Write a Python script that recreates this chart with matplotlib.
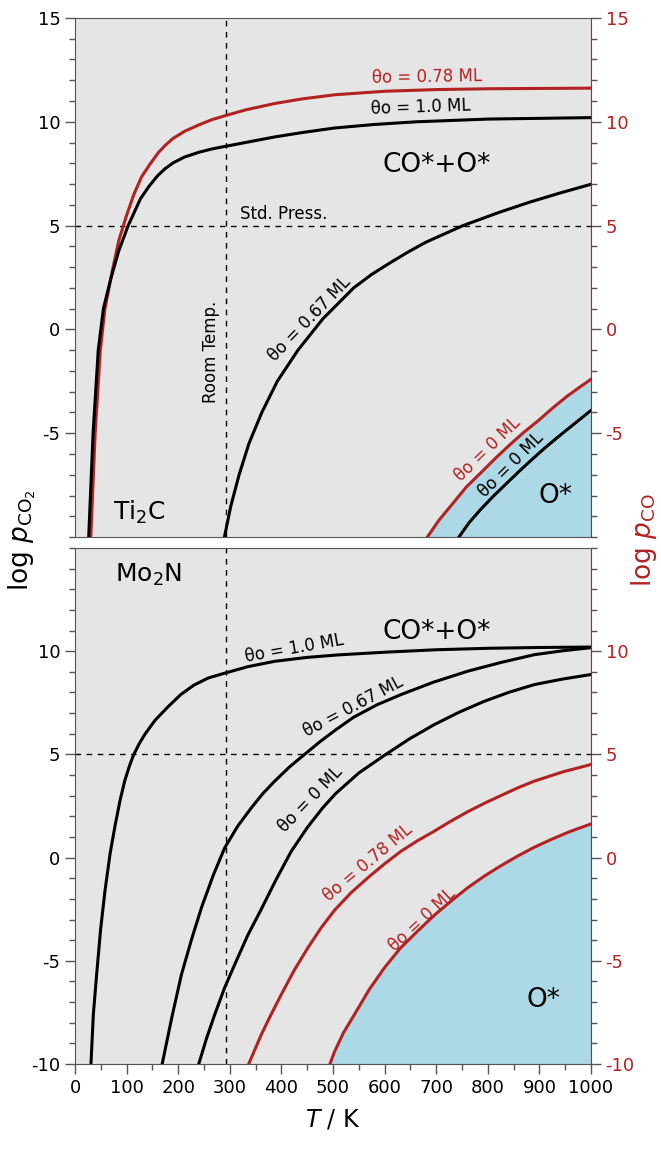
import matplotlib.pyplot as plt
from matplotlib.ticker import MultipleLocator

plt.rcParams['axes.unicode_minus'] = False

RED = '#B22222'
BLUE = '#ADD8E6'
BG = '#E5E5E5'
SPINE = '#555555'

room_temp = 293
std_press = 5

# Ti2C panel (T in K, log p)
ti2c_co2_100_T = [26.5, 35, 45, 55, 70, 85, 103, 127, 143, 160, 175, 190, 212, 240, 265, 292, 330, 387,
                  440, 503, 580, 662, 800, 1000]
ti2c_co2_100_p = [-10, -5, -1, 1, 2.5, 3.8, 5, 6.3, 6.88, 7.4, 7.75, 8.02, 8.3, 8.53, 8.69, 8.82, 9.0, 9.27,
                  9.48, 9.7, 9.87, 10.0, 10.13, 10.2]
ti2c_co_078_T = [30.5, 39, 49, 58, 72, 85, 100, 114, 129, 145, 161, 175, 190, 213, 240, 265, 292, 330, 387,
                 440, 503, 600, 700, 800, 1000]
ti2c_co_078_p = [-10, -5, -1, 1, 2.8, 4.3, 5.5, 6.5, 7.35, 7.95, 8.5, 8.87, 9.2, 9.55, 9.85, 10.1, 10.3,
                 10.57, 10.88, 11.1, 11.3, 11.47, 11.55, 11.59, 11.62]
ti2c_co2_067_T = [289.5, 302, 318, 337, 362, 392, 432, 480, 540, 575, 610, 645, 680, 752, 820, 880, 940, 1000]
ti2c_co2_067_p = [-10, -8.5, -7, -5.5, -4, -2.5, -1, 0.5, 2, 2.65, 3.2, 3.72, 4.2, 5.0, 5.62, 6.12, 6.57, 6.99]
ti2c_co_0_T = [682.8, 705, 731.3, 758, 786.7, 815, 842, 870, 897.5, 925, 953, 977, 1000]
ti2c_co_0_p = [-10, -9.2, -8.41, -7.6, -6.9, -6.2, -5.57, -4.95, -4.4, -3.8, -3.23, -2.8, -2.4]
ti2c_co2_0_T = [744, 764, 785, 810, 835, 860, 884, 910, 939, 970, 1000]
ti2c_co2_0_p = [-10, -9.3, -8.7, -8.05, -7.45, -6.85, -6.3, -5.72, -5.12, -4.5, -3.9]

# Mo2N panel
mo2n_co2_100_T = [30.9, 35.5, 41.9, 49.5, 58, 68, 78, 87.5, 96.7, 105, 113, 124, 135, 155, 180, 205, 230,
                  258, 292, 335, 387, 450, 510, 600, 700, 800, 900, 1000]
mo2n_co2_100_p = [-10, -7.6, -5.66, -3.5, -1.62, 0.2, 1.6, 2.8, 3.75, 4.4, 4.95, 5.5, 5.96, 6.65, 7.3, 7.9,
                  8.35, 8.7, 8.95, 9.25, 9.51, 9.7, 9.82, 9.95, 10.07, 10.14, 10.18, 10.2]
mo2n_co2_067_T = [168.9, 188, 206.3, 226, 245, 268, 290, 316, 341.7, 364, 386.8, 416, 444.9, 474, 503,
                  540, 585, 632, 695, 761, 825, 890, 945, 1000]
mo2n_co2_067_p = [-10, -7.7, -5.66, -3.95, -2.43, -0.85, 0.47, 1.55, 2.41, 3.1, 3.7, 4.4, 5.0, 5.6, 6.15,
                  6.8, 7.4, 7.9, 8.5, 9.03, 9.45, 9.83, 10.02, 10.17]
mo2n_co2_0_T = [239.8, 255, 270.8, 290, 309.5, 335, 361, 390, 419, 450, 480, 505, 550, 600, 648, 696,
                745, 793, 840, 890, 945, 1000]
mo2n_co2_0_p = [-10, -8.75, -7.6, -6.3, -5.18, -3.75, -2.5, -1.05, 0.3, 1.45, 2.41, 3.1, 4.1, 4.96, 5.75,
                6.44, 7.05, 7.57, 8.0, 8.38, 8.65, 8.87]
mo2n_co_078_T = [336.6, 361.1, 378, 399.8, 425, 451.3, 477, 503, 535, 567.4, 600, 631.9, 664, 696.3,
                 728, 760.8, 795, 825, 860, 889.7, 945, 1000]
mo2n_co_078_p = [-10, -8.57, -7.7, -6.63, -5.45, -4.37, -3.4, -2.55, -1.7, -0.98, -0.3, 0.31, 0.82, 1.28,
                 1.76, 2.22, 2.65, 3.0, 3.4, 3.7, 4.15, 4.51]
mo2n_co_0_T = [494, 503, 520, 541.6, 570, 599.6, 630, 664, 696, 728.6, 760, 793, 825, 857.5, 890, 922,
               960, 1000]
mo2n_co_0_p = [-10, -9.4, -8.5, -7.6, -6.4, -5.34, -4.4, -3.56, -2.8, -2.11, -1.48, -0.9, -0.4, 0.07, 0.5,
               0.87, 1.27, 1.63]

fig = plt.figure(figsize=(6.61, 11.51), dpi=100)
ax_top = fig.add_axes([0.1135, 0.5334, 0.7806, 0.4510])
ax_bot = fig.add_axes([0.1135, 0.0756, 0.7806, 0.4483])


def style(ax, yticks, show_x):
    ax.set_facecolor(BG)
    ax.set_xlim(0, 1000)
    ax.set_ylim(-10, 15)
    ax.set_yticks(yticks)
    ax.yaxis.set_minor_locator(MultipleLocator(1))
    ax.xaxis.set_major_locator(MultipleLocator(100))
    ax.xaxis.set_minor_locator(MultipleLocator(50))
    ax.tick_params(which='major', length=7, width=1, color=SPINE, labelsize=13)
    ax.tick_params(which='minor', length=4, width=1, color=SPINE)
    ax.tick_params(axis='x', which='both', bottom=show_x, labelbottom=show_x)
    for s in ax.spines.values():
        s.set_color(SPINE)
    ax.spines['right'].set_visible(False)
    ax.axvline(room_temp, color='black', ls='--', lw=1, dashes=(4, 4))
    ax.axhline(std_press, color='black', ls='--', lw=1, dashes=(4, 4))
    tw = ax.twinx()
    tw.set_ylim(-10, 15)
    tw.set_yticks(yticks)
    tw.yaxis.set_minor_locator(MultipleLocator(1))
    tw.tick_params(which='major', length=7, width=1, color=SPINE, labelsize=13, labelcolor=RED)
    tw.tick_params(which='minor', length=4, width=1, color=SPINE)
    tw.spines['right'].set_color(RED)
    for k in ['left', 'top', 'bottom']:
        tw.spines[k].set_visible(False)
    return tw


style(ax_top, [-5, 0, 5, 10, 15], False)
style(ax_bot, [-10, -5, 0, 5, 10], True)

lw = 2.2
txt = dict(ha='center', va='center', rotation_mode='anchor', fontsize=12)
big = dict(ha='center', va='center', fontsize=19)

# Ti2C
ax = ax_top
ax.fill_between(ti2c_co_0_T, ti2c_co_0_p, -10, color=BLUE, lw=0)
ax.plot(ti2c_co_078_T, ti2c_co_078_p, color=RED, lw=lw)
ax.plot(ti2c_co2_100_T, ti2c_co2_100_p, color='black', lw=lw)
ax.plot(ti2c_co2_067_T, ti2c_co2_067_p, color='black', lw=lw)
ax.plot(ti2c_co_0_T, ti2c_co_0_p, color=RED, lw=lw)
ax.plot(ti2c_co2_0_T, ti2c_co2_0_p, color='black', lw=lw)
ax.text(683, 12.15, 'θo = 0.78 ML', color=RED, rotation=1, **txt)
ax.text(670, 10.7, 'θo = 1.0 ML', color='black', rotation=2, **txt)
ax.text(455, 0.5, 'θo = 0.67 ML', color='black', rotation=46, **txt)
ax.text(800, -5.75, 'θo = 0 ML', color=RED, rotation=44, **txt)
ax.text(846, -6.5, 'θo = 0 ML', color='black', rotation=45, **txt)
ax.text(319, 5.55, 'Std. Press.', ha='left', va='center', fontsize=12)
ax.text(263, -1.1, 'Room Temp.', ha='center', va='center', rotation=90, fontsize=12)
ax.text(701, 7.9, 'CO*+O*', **big)
ax.text(932, -8.0, 'O*', **big)
ax.text(125, -8.8, 'Ti$_2$C', ha='center', va='center', fontsize=18)

# Mo2N
ax = ax_bot
ax.fill_between(mo2n_co_0_T, mo2n_co_0_p, -10, color=BLUE, lw=0)
ax.plot(mo2n_co2_100_T, mo2n_co2_100_p, color='black', lw=lw)
ax.plot(mo2n_co2_067_T, mo2n_co2_067_p, color='black', lw=lw)
ax.plot(mo2n_co2_0_T, mo2n_co2_0_p, color='black', lw=lw)
ax.plot(mo2n_co_078_T, mo2n_co_078_p, color=RED, lw=lw)
ax.plot(mo2n_co_0_T, mo2n_co_0_p, color=RED, lw=lw)
ax.text(425, 10.15, 'θo = 1.0 ML', color='black', rotation=10, **txt)
ax.text(539, 7.3, 'θo = 0.67 ML', color='black', rotation=28, **txt)
ax.text(456, 2.8, 'θo = 0 ML', color='black', rotation=46, **txt)
ax.text(567, -0.25, 'θo = 0.78 ML', color=RED, rotation=40, **txt)
ax.text(674, -3.0, 'θo = 0 ML', color=RED, rotation=43, **txt)
ax.text(701, 10.95, 'CO*+O*', **big)
ax.text(908, -6.9, 'O*', **big)
ax.text(143, 13.7, 'Mo$_2$N', ha='center', va='center', fontsize=18)
ax.set_xlabel('$T$ / K', fontsize=17, labelpad=8)

fig.text(0.033, 0.531, r'log $p_{\mathrm{CO}_2}$', rotation=90, ha='center', va='center', fontsize=19)
fig.text(0.975, 0.531, r'log $p_{\mathrm{CO}}$', rotation=90, ha='center', va='center', fontsize=19, color=RED)

fig.savefig('out.png', dpi=100)
